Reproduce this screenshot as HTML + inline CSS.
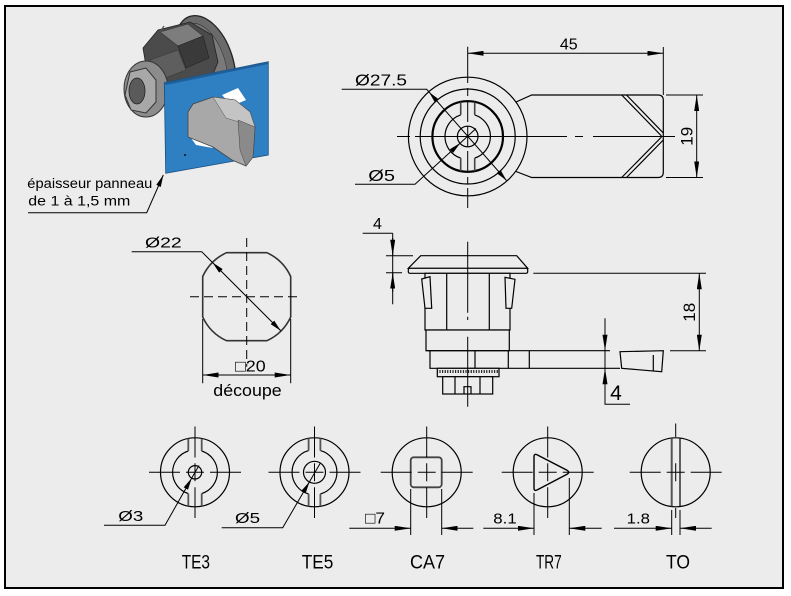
<!DOCTYPE html>
<html><head><meta charset="utf-8"><style>
html,body{margin:0;padding:0;background:#fff;}
svg{display:block;}
text{font-family:"Liberation Sans","DejaVu Sans",sans-serif;fill:#000;}
</style></head><body>
<svg width="791" height="596" viewBox="0 0 791 596" xmlns="http://www.w3.org/2000/svg">
<defs>
<marker id="a" markerUnits="userSpaceOnUse" markerWidth="12" markerHeight="5" viewBox="0 0 12 5" refX="12" refY="2.5" orient="auto-start-reverse"><path d="M0,0 L12,2.5 L0,5 z" fill="#000"/></marker>
<marker id="b" markerUnits="userSpaceOnUse" markerWidth="16" markerHeight="5" viewBox="0 0 16 5" refX="16" refY="2.5" orient="auto-start-reverse"><path d="M0,0 L16,2.5 L0,5 z" fill="#000"/></marker>
<pattern id="k" width="2.6" height="10" patternUnits="userSpaceOnUse"><rect width="2.6" height="10" fill="#ececec"/><line x1="0.6" y1="0" x2="0.6" y2="3" stroke="#000" stroke-width="1"/></pattern>
</defs>
<rect x="5" y="6" width="778" height="582" fill="#ececec" stroke="#000" stroke-width="2"/>

<!-- 3D render -->
<g>
<ellipse cx="205" cy="63" rx="28" ry="49" transform="rotate(-18 205 63)" fill="#6a6a6a" stroke="#222" stroke-width="1.3"/>
<ellipse cx="203" cy="64" rx="22" ry="42" transform="rotate(-18 203 64)" fill="#7a7a7a" stroke="#333" stroke-width="0.6"/>
<polygon points="143,48 158,30 190,22 212,35 218,62 208,86 176,96 150,90" fill="#4b4b4b" stroke="#222" stroke-width="0.8"/>
<polygon points="160,32 188,24 203,36 178,46" fill="#7d7d7d" stroke="#333" stroke-width="0.6"/>
<polygon points="178,46 203,36 209,58 186,68" fill="#3a3a3a" stroke="#222" stroke-width="0.6"/>
<polygon points="150,60 178,50 186,70 160,80" fill="#5e5e5e" stroke="#333" stroke-width="0.5"/>
<ellipse cx="146" cy="89" rx="22" ry="28" fill="#8c8c8c" stroke="#333" stroke-width="1"/>
<polygon points="130,72 146,68 156,80 156,102 146,113 131,110 125,95" fill="#a8a8a8" stroke="#333" stroke-width="1"/>
<ellipse cx="137" cy="91" rx="8" ry="13" fill="#5a5a5a" stroke="#222" stroke-width="0.8"/>
<line x1="160" y1="32" x2="164" y2="26" stroke="#555" stroke-width="1.2"/>
<polygon points="164.3,82.7 268.3,61.7 268.3,155 165.7,173.3" fill="#2f7fc3" stroke="#1a4f80" stroke-width="0.8"/>
<polygon points="164.3,82.7 268.3,61.7 268.3,64 166,85" fill="#1e5f99"/>
<polygon points="222,95 238,88 246,100 232,106" fill="#ffffff"/>
<polygon points="191,138 207,141 213,148 196,145" fill="#ffffff"/>
<polygon points="188,137 188,112 193,104 213,97 235,100 250,112 255,127 253,157 246,166 232,160 213,147" fill="#a8a8a8" stroke="#444" stroke-width="0.8"/>
<polygon points="213,97 235,100 250,112 255,127 226,118" fill="#c4c4c4" stroke="#555" stroke-width="0.5"/>
<polygon points="238,120 255,127 253,157 246,166 240,150" fill="#8a8a8a" stroke="#444" stroke-width="0.5"/>
<circle cx="185" cy="155" r="1" fill="#111"/>
</g>
<text x="27.3" y="188" font-size="13.5" textLength="125" lengthAdjust="spacingAndGlyphs">épaisseur panneau</text>
<text x="28.3" y="205.5" font-size="13.5" textLength="102" lengthAdjust="spacingAndGlyphs">de 1 à 1,5 mm</text>
<path d="M28,212.7 H146.7 L163.3,175" fill="none" stroke="#000" stroke-width="1" marker-end="url(#a)"/>

<!-- Top view -->
<g fill="none" stroke="#000" stroke-width="1.2">
<circle cx="467.7" cy="136.5" r="59.3"/>
<circle cx="467.7" cy="136.5" r="47.5"/>
<circle cx="467.7" cy="136.5" r="35.3" stroke-width="2.2"/>
<circle cx="467.7" cy="136.5" r="10.3"/>
<path d="M474.7,114.9 A22.7,22.7 0 0 1 474.7,158.1 M460.7,158.1 A22.7,22.7 0 0 1 460.7,114.9"/>
<path d="M460.7,114.9 V101.9 M474.7,114.9 V101.9 M460.7,158.1 V171.1 M474.7,158.1 V171.1" stroke="#444" stroke-width="1.6"/>
<path d="M516,102 L531.7,95 H658 Q663.3,95 663.3,100.3 V172.2 Q663.3,177.5 658,177.5 H531.7 L516,171.5"/>
<path d="M621.7,95 L661.5,136 M626.5,95 L663.3,133 M621.7,177.5 L661.5,137 M626.5,177.5 L663.3,140"/>
</g>
<g fill="none" stroke="#000" stroke-width="1">
<path d="M397,136.5 H410 M415,136.5 H567 M575,136.5 H583 M593,136.5 H675"/>
<path d="M467.7,46.7 V83 M467.7,88 V96 M467.7,100 V122 M467.7,126 V147 M467.7,151 V173 M467.7,177 V184 M467.7,188 V208"/>
<path d="M663.3,47 V95"/>
<line x1="467.7" y1="53.3" x2="663.3" y2="53.3" marker-start="url(#b)" marker-end="url(#b)"/>
<path d="M666,95 H703 M666,177.5 H703"/>
<line x1="696.7" y1="95" x2="696.7" y2="177.5" marker-start="url(#b)" marker-end="url(#b)"/>
<path d="M341.7,89.3 H426.7 L429,92"/>
<line x1="429" y1="92" x2="506.5" y2="180.5" marker-start="url(#a)" marker-end="url(#a)"/>
<path d="M355,184.3 H415 L460.3,143" marker-end="url(#a)"/>
<path d="M460.3,143 L476,128.5"/>
</g>
<text x="568.8" y="49.3" font-size="16" text-anchor="middle">45</text>
<text x="355" y="85.7" font-size="16" textLength="52" lengthAdjust="spacingAndGlyphs">Ø27.5</text>
<text x="368.3" y="181" font-size="16" textLength="26.7" lengthAdjust="spacingAndGlyphs">Ø5</text>
<text transform="translate(692.5,136.3) rotate(-90)" font-size="17" text-anchor="middle">19</text>

<!-- Cutout -->
<path d="M226.5,252.7 H266.9 A48.4,48.4 0 0 1 290.7,276.5 V316.9 A48.4,48.4 0 0 1 266.9,340.7 H226.5 A48.4,48.4 0 0 1 202.7,316.9 V276.5 A48.4,48.4 0 0 1 226.5,252.7 Z" fill="none" stroke="#333" stroke-width="1.6"/>
<g fill="none" stroke="#000" stroke-width="1">
<path d="M246.7,238 V366.7 M190,296.7 H301.7" stroke-dasharray="9,5"/>
<path d="M131.7,251.7 H201.7 L212.5,262.5"/>
<line x1="212.5" y1="262.5" x2="280.9" y2="330.9" marker-start="url(#a)" marker-end="url(#a)"/>
<path d="M202.7,319 V383.3 M290.7,319 V383.3"/>
<line x1="202.7" y1="375" x2="290.7" y2="375" marker-start="url(#b)" marker-end="url(#b)"/>
</g>
<text x="145" y="247.3" font-size="15" textLength="36.7" lengthAdjust="spacingAndGlyphs">Ø22</text>
<text x="235" y="371.7" font-size="16" textLength="30.7" lengthAdjust="spacingAndGlyphs">□20</text>
<text x="213.3" y="396" font-size="17" textLength="68.4" lengthAdjust="spacingAndGlyphs">découpe</text>

<!-- Side view -->
<g fill="#ececec" stroke="#000" stroke-width="1.2">
<path d="M420.7,255.7 H516.7 L527.7,268.3 H408.3 Z"/>
<rect x="408.3" y="268.3" width="119.4" height="5" rx="1.5"/>
<rect x="425" y="273.3" width="85" height="56.7"/>
<path d="M446.7,273.3 V330 M489.3,273.3 V330" fill="none"/>
<polygon points="421.7,279 430,276.7 431.7,308.3 425,308.3"/>
<polygon points="505,277.3 515,279.3 511.7,308.3 506,308.3"/>
<rect x="426" y="330" width="83.3" height="20.7"/>
<path d="M426,350.7 H610 M430,350.7 V368.3 H620" fill="none"/>
<path d="M475,350.7 V368.3 M508.3,350.7 V368.3 M529.3,350.7 V368.3" fill="none"/>
<polygon points="620,351.7 663.3,350.7 661.7,371.7 621.7,368.3"/>
<path d="M653.3,355 V371" fill="none"/>
<rect x="437.3" y="368.3" width="61.7" height="8.4" fill="url(#k)"/>
<rect x="442.7" y="376.7" width="50" height="17.3"/>
<path d="M455,376.7 V394 M480,376.7 V394 M464,394 V386.7 H471 V394" fill="none"/>
</g>
<g fill="none" stroke="#000" stroke-width="1">
<path d="M467.7,241.7 V312.7 M467.7,316.7 V320 M467.7,336.7 V406.7"/>
<path d="M392.7,233.3 V304.3 M386,255.7 H413 M386,272.7 H402 M362.7,233.3 H392.7"/>
<line x1="392.7" y1="238" x2="392.7" y2="255.7" marker-end="url(#b)"/>
<line x1="392.7" y1="292" x2="392.7" y2="272.7" marker-end="url(#b)"/>
<path d="M533.3,273.3 H706 M670,350.7 H706"/>
<line x1="699.3" y1="273.3" x2="699.3" y2="350.7" marker-start="url(#b)" marker-end="url(#b)"/>
<path d="M605,318.3 V404.3 H630"/>
<line x1="605" y1="333" x2="605" y2="350.7" marker-end="url(#b)"/>
<line x1="605" y1="387" x2="605" y2="368.3" marker-end="url(#b)"/>
</g>
<text x="377.5" y="229" font-size="16" text-anchor="middle">4</text>
<text transform="translate(695,312.3) rotate(-90)" font-size="17" text-anchor="middle">18</text>
<text x="616" y="400" font-size="21" text-anchor="middle">4</text>

<!-- Bottom row -->
<g fill="none" stroke="#000" stroke-width="1.2">
<circle cx="195" cy="472.3" r="34.5"/>
<circle cx="195" cy="472.3" r="6.7"/>
<path d="M201.7,451 A22.3,22.3 0 0 1 201.7,493.6 M188.3,493.6 A22.3,22.3 0 0 1 188.3,451"/>
<path d="M188.3,451 V438.5 M201.7,451 V438.5 M188.3,493.6 V506.1 M201.7,493.6 V506.1" stroke="#555" stroke-width="1.8"/>
<circle cx="314.5" cy="472.3" r="34.5"/>
<circle cx="314.5" cy="472.3" r="11"/>
<path d="M320.4,450.6 A22.5,22.5 0 0 1 320.4,494 M308.6,494 A22.5,22.5 0 0 1 308.6,450.6"/>
<path d="M308.6,450.6 V438.3 M320.4,450.6 V438.3 M308.6,494 V506.3 M320.4,494 V506.3" stroke="#555" stroke-width="1.8"/>
<circle cx="426.7" cy="472.3" r="34.5"/>
<rect x="410.7" y="457.3" width="31" height="30" rx="3" stroke="#444" stroke-width="1.8"/>
<circle cx="547.7" cy="472.3" r="34.5"/>
<path d="M534,457 Q534,453 537.5,455 L567,470.3 Q570.5,472.3 567,474.3 L537.5,489.7 Q534,491.7 534,488 Z" stroke-width="1.4"/>
<circle cx="675.7" cy="472.3" r="34.5"/>
<path d="M671.7,438.3 V506.3" stroke="#555" stroke-width="2"/>
<path d="M680,438.5 V506"/>
</g>
<g fill="none" stroke="#000" stroke-width="1">
<path d="M149,472.3 H180 M186,472.3 H204 M210,472.3 H241 M195,426.5 V457.5 M195,463.3 V481.3 M195,487.3 V518"/>
<path d="M268.5,472.3 H299.5 M305.5,472.3 H323.5 M329.5,472.3 H360.5 M314.5,426.5 V457.5 M314.5,463.3 V481.3 M314.5,487.3 V518"/>
<path d="M380.7,472.3 H411.7 M417.7,472.3 H435.7 M441.7,472.3 H472.7 M426.7,426.5 V457.5 M426.7,463.3 V481.3 M426.7,487.3 V518"/>
<path d="M501.7,472.3 H532.7 M538.7,472.3 H556.7 M562.7,472.3 H593.7 M547.7,426.5 V457.5 M547.7,463.3 V481.3 M547.7,487.3 V518"/>
<path d="M629.7,472.3 H660.7 M666.7,472.3 H684.7 M690.7,472.3 H721.7 M675.7,423.5 V437 M675.7,463.3 V481.3 M675.7,508 V518"/>
<path d="M104,525.3 H165 L191.7,478.1" marker-end="url(#a)"/>
<path d="M191.7,478.1 L199,465.5"/>
<path d="M221.7,527.7 H282.7 L309.5,481.8" marker-end="url(#a)"/>
<path d="M309.5,481.8 L320.5,462.8"/>
<path d="M410.7,489 V535 M441.7,489 V535"/>
<path d="M349.3,528.3 H410.7" marker-end="url(#b)"/>
<path d="M473.3,528.3 H441.7" marker-end="url(#b)"/>
<path d="M534,493 V535 M569.3,478 V535"/>
<path d="M483.3,528.3 H534" marker-end="url(#b)"/>
<path d="M601.7,528.3 H569.3" marker-end="url(#b)"/>
<path d="M671.7,510 V535 M680,510 V535"/>
<path d="M614,528.3 H671.7" marker-end="url(#b)"/>
<path d="M711.7,528.3 H680" marker-end="url(#b)"/>
</g>
<text x="118.3" y="521" font-size="15" textLength="25" lengthAdjust="spacingAndGlyphs">Ø3</text>
<text x="235" y="523" font-size="15" textLength="25" lengthAdjust="spacingAndGlyphs">Ø5</text>
<text x="365" y="523.3" font-size="16" textLength="20" lengthAdjust="spacingAndGlyphs">□7</text>
<text x="493.3" y="523.3" font-size="15" textLength="23.4" lengthAdjust="spacingAndGlyphs">8.1</text>
<text x="626.7" y="523.3" font-size="15" textLength="23.3" lengthAdjust="spacingAndGlyphs">1.8</text>
<text x="181.7" y="568.3" font-size="19.5" textLength="28.3" lengthAdjust="spacingAndGlyphs">TE3</text>
<text x="301.7" y="568.3" font-size="19.5" textLength="31.6" lengthAdjust="spacingAndGlyphs">TE5</text>
<text x="410" y="568.3" font-size="19.5" textLength="35" lengthAdjust="spacingAndGlyphs">CA7</text>
<text x="536" y="568.3" font-size="19.5" textLength="25.7" lengthAdjust="spacingAndGlyphs">TR7</text>
<text x="666" y="568.3" font-size="19.5" textLength="24" lengthAdjust="spacingAndGlyphs">TO</text>
</svg>
</body></html>
